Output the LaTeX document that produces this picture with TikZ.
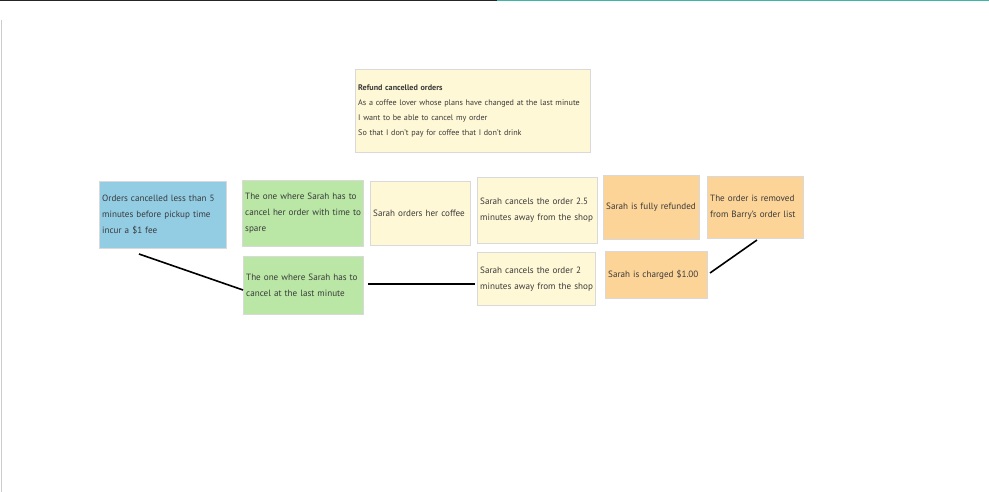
\documentclass[tikz,border=0pt]{standalone}
\usepackage{fontspec}
\setmainfont{PT Sans}
\usetikzlibrary{shadows}
\definecolor{stblue}{HTML}{92CDE4}
\definecolor{stgreen}{HTML}{BAE7A6}
\definecolor{styellow}{HTML}{FFF8D6}
\definecolor{storange}{HTML}{FDD497}
\definecolor{txt}{HTML}{3A3A3A}
\definecolor{teal}{HTML}{3FB5A8}
\newcommand\stl[1]{\mbox{#1}}
\tikzset{
  sticky/.style={draw=black!15, line width=0.4pt, text=txt, font=\fontsize{9.1}{16}\selectfont,
    align=left, inner sep=3pt, anchor=north west,
    drop shadow={shadow xshift=0.8pt, shadow yshift=-1pt, opacity=0.35}},
  conn/.style={line width=1.6pt, black},
}
\begin{document}
\begin{tikzpicture}[x=1pt,y=-1pt]
\useasboundingbox (0,0) rectangle (989,492);
\fill[white] (0,0) rectangle (989,492);
% top bar and left edge
\fill[black!85] (0,0) rectangle (497,1.5);
\fill[teal] (497,0) rectangle (989,1.5);
\draw[black!20, line width=0.8pt] (1,20) -- (1,492);
% story card
\node[sticky, fill=styellow, minimum width=235pt, minimum height=83pt, text width=229pt,
  font=\fontsize{8.1}{15}\selectfont] (story) at (355,69)
  {\textbf{Refund cancelled orders}\\
   \stl{As a coffee lover whose plans have changed at the last minute}\\
   I want to be able to cancel my order\\
   So that I don't pay for coffee that I don't drink};
% first row
\node[sticky, fill=stblue, minimum width=127pt, minimum height=67pt, text width=121pt] (rule) at (99,181)
  {\stl{Orders cancelled less than 5}\\\stl{minutes before pickup time}\\\stl{incur a \$1 fee}};
\node[sticky, fill=stgreen, minimum width=121pt, minimum height=66pt, text width=115pt] (ex1) at (242,180)
  {\stl{The one where Sarah has to}\\\stl{cancel her order with time to}\\\stl{spare}};
\node[sticky, fill=styellow, minimum width=100pt, minimum height=64pt, text width=94pt] (ev1) at (370,181)
  {\stl{Sarah orders her coffee}};
\node[sticky, fill=styellow, minimum width=120pt, minimum height=66pt, text width=114pt] (ev2) at (477,177)
  {\stl{Sarah cancels the order 2.5}\\\stl{minutes away from the shop}};
\node[sticky, fill=storange, minimum width=96pt, minimum height=64pt, text width=90pt] (ev3) at (603,175)
  {\stl{Sarah is fully refunded}};
\node[sticky, fill=storange, minimum width=96pt, minimum height=62pt, text width=90pt] (ev4) at (707,176)
  {\stl{The order is removed}\\\stl{from Barry's order list}};
% second row
\node[sticky, fill=stgreen, minimum width=120pt, minimum height=58pt, text width=114pt] (ex2) at (243,256)
  {\stl{The one where Sarah has to}\\\stl{cancel at the last minute}};
\node[sticky, fill=styellow, minimum width=118pt, minimum height=53pt, text width=112pt] (ev5) at (477,252)
  {\stl{Sarah cancels the order 2}\\\stl{minutes away from the shop}};
\node[sticky, fill=storange, minimum width=102pt, minimum height=47pt, text width=96pt] (ev6) at (605,251)
  {\stl{Sarah is charged \$1.00}};
% connectors
\coordinate (c1) at (139,254);
\coordinate (c2) at (243,290);
\coordinate (c3) at (368,284);
\coordinate (c4) at (475,284);
\coordinate (c5) at (710,273);
\coordinate (c6) at (757,240);
\draw[conn] (c1) -- (c2);
\draw[conn] (c3) -- (c4);
\draw[conn] (c5) -- (c6);
\end{tikzpicture}
\end{document}
